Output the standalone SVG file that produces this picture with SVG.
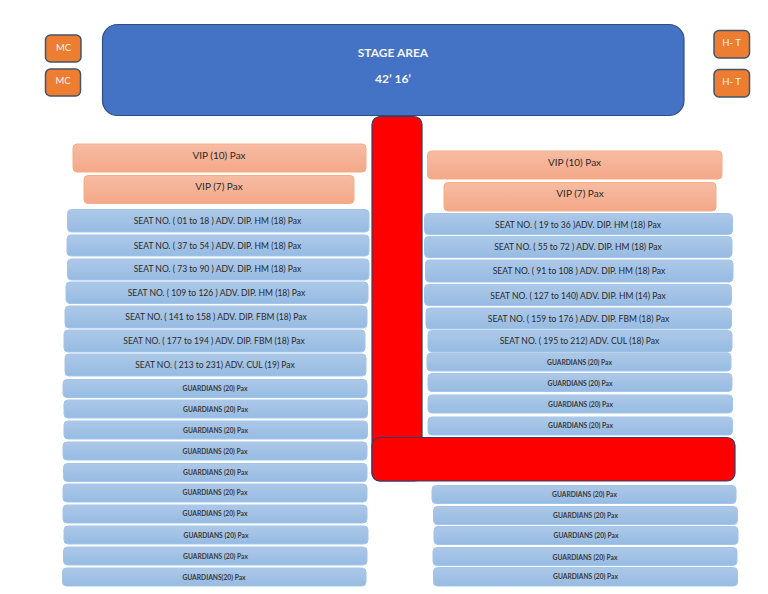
<svg xmlns="http://www.w3.org/2000/svg" width="768" height="594" viewBox="0 0 768 594">
<style>
text{font-family:Lato,"Open Sans",sans-serif;text-anchor:middle}
.w{fill:#f4f4f4}
.d{fill:#2a2a2a}
.st{font-size:12px;font-weight:700}
.m{font-size:9.5px}
.v{font-size:10px}
.s{font-size:8.55px}
.g{font-size:6.7px;font-weight:700;fill:#3a3a3a}
.o{fill:#ed7d31;stroke:#44546a;stroke-width:1.5}
.vip{fill:url(#pk);stroke:#f6ad84;stroke-width:1}
.b{fill:url(#bl);stroke:#a3c5ea;stroke-width:1}
.r{fill:#f00;stroke:#2f3f6b;stroke-width:1.2}
</style>
<defs>
<linearGradient id="pk" x1="0" y1="0" x2="0" y2="1"><stop offset="0" stop-color="#f6bca3"/><stop offset="1" stop-color="#f4a888"/></linearGradient>
<linearGradient id="bl" x1="0" y1="0" x2="0" y2="1"><stop offset="0" stop-color="#adc8e8"/><stop offset="1" stop-color="#96bbe2"/></linearGradient>
</defs>
<rect width="768" height="594" fill="#fff"/>
<g id="stage"><rect x="102.500" y="24.500" width="581.500" height="91" rx="15" fill="#4472c4" stroke="#2f4f80" stroke-width="1.2"/>
<text class="w st" x="393" y="56.500">STAGE AREA</text><text class="w st" x="393" y="82.500">42’ 16’</text></g>
<g id="mc1"><rect class="o" x="45.500" y="35" width="35.500" height="27" rx="5"/><text class="w m" x="63.500" y="51">MC</text></g>
<g id="mc2"><rect class="o" x="45.500" y="69" width="35" height="27" rx="5"/><text class="w m" x="63" y="84">MC</text></g>
<g id="ht1"><rect class="o" x="714" y="30.500" width="35.500" height="27.500" rx="5"/><text class="w m" x="731.500" y="45.500">H- T</text></g>
<g id="ht2"><rect class="o" x="714" y="69.500" width="35.500" height="27.500" rx="5"/><text class="w m" x="731.500" y="85">H- T</text></g>
<g id="aisle"><rect class="r" x="372" y="116.500" width="50" height="364.500" rx="8"/><rect class="r" x="372" y="437.500" width="363" height="43.500" rx="8"/></g>
<g id="vip-l1"><rect class="vip" x="73" y="144" width="293" height="28" rx="4"/><text class="d v" x="219" y="159">VIP (10) Pax</text></g>
<g id="vip-l2"><rect class="vip" x="84" y="175.500" width="270" height="28" rx="4"/><text class="d v" x="219" y="190">VIP (7) Pax</text></g>
<g id="vip-r1"><rect class="vip" x="427.500" y="151" width="294.500" height="28" rx="4"/><text class="d v" x="574.500" y="166">VIP (10) Pax</text></g>
<g id="vip-r2"><rect class="vip" x="444" y="182.500" width="272" height="28.500" rx="4"/><text class="d v" x="580" y="197">VIP (7) Pax</text></g>
<g id="s-l1"><rect class="b" x="67.500" y="209.500" width="301.500" height="22.500" rx="4"/><text class="d s" x="217.500" y="223.500">SEAT NO. ( 01 to 18 ) ADV. DIP. HM (18) Pax</text></g>
<g id="s-l2"><rect class="b" x="67" y="235" width="302" height="21" rx="4"/><text class="d s" x="217.500" y="249">SEAT NO. ( 37 to 54 ) ADV. DIP. HM (18) Pax</text></g>
<g id="s-l3"><rect class="b" x="67.500" y="259" width="301.500" height="21" rx="4"/><text class="d s" x="217.500" y="272">SEAT NO. ( 73 to 90 ) ADV. DIP. HM (18) Pax</text></g>
<g id="s-l4"><rect class="b" x="66" y="282" width="302" height="21.500" rx="4"/><text class="d s" x="216.500" y="295.500">SEAT NO. ( 109 to 126 ) ADV. DIP. HM (18) Pax</text></g>
<g id="s-l5"><rect class="b" x="65" y="306" width="302" height="22" rx="4"/><text class="d s" x="216" y="319.500">SEAT NO. ( 141 to 158 ) ADV. DIP. FBM (18) Pax</text></g>
<g id="s-l6"><rect class="b" x="64" y="330" width="301" height="22" rx="4"/><text class="d s" x="214" y="344">SEAT NO. ( 177 to 194 ) ADV. DIP. FBM (18) Pax</text></g>
<g id="s-l7"><rect class="b" x="65" y="354" width="301" height="22" rx="4"/><text class="d s" x="215" y="368">SEAT NO. ( 213 to 231) ADV. CUL (19) Pax</text></g>
<g id="g-l1"><rect class="b" x="63" y="379.500" width="304" height="18" rx="4"/><text class="g" x="215" y="390.500">GUARDIANS (20) Pax</text></g>
<g id="g-l2"><rect class="b" x="64" y="400" width="303.500" height="18" rx="4"/><text class="g" x="215.500" y="411.500">GUARDIANS (20) Pax</text></g>
<g id="g-l3"><rect class="b" x="64" y="421" width="303.500" height="18" rx="4"/><text class="g" x="215.500" y="432.500">GUARDIANS (20) Pax</text></g>
<g id="g-l4"><rect class="b" x="63" y="442" width="304" height="18" rx="4"/><text class="g" x="215" y="453.500">GUARDIANS (20) Pax</text></g>
<g id="g-l5"><rect class="b" x="63.500" y="463.500" width="303.500" height="18" rx="4"/><text class="g" x="215.500" y="474.500">GUARDIANS (20) Pax</text></g>
<g id="g-l6"><rect class="b" x="63" y="484" width="304" height="18" rx="4"/><text class="g" x="215" y="494.500">GUARDIANS (20) Pax</text></g>
<g id="g-l7"><rect class="b" x="63" y="505" width="304" height="18" rx="4"/><text class="g" x="215" y="515.500">GUARDIANS (20) Pax</text></g>
<g id="g-l8"><rect class="b" x="64" y="526" width="304" height="18" rx="4"/><text class="g" x="216" y="538">GUARDIANS (20) Pax</text></g>
<g id="g-l9"><rect class="b" x="63.500" y="547" width="303.500" height="18" rx="4"/><text class="g" x="215.500" y="558.500">GUARDIANS (20) Pax</text></g>
<g id="g-l10"><rect class="b" x="62.500" y="568" width="303.500" height="18" rx="4"/><text class="g" x="214" y="579.500">GUARDIANS(20) Pax</text></g>
<g id="s-r1"><rect class="b" x="424.500" y="213.500" width="308" height="21" rx="4"/><text class="d s" x="578" y="227.500">SEAT NO. ( 19 to 36 )ADV. DIP. HM (18) Pax</text></g>
<g id="s-r2"><rect class="b" x="424.500" y="236.500" width="307.500" height="21" rx="4"/><text class="d s" x="578" y="250">SEAT NO. ( 55 to 72 ) ADV. DIP. HM (18) Pax</text></g>
<g id="s-r3"><rect class="b" x="425.500" y="260" width="307.500" height="22" rx="4"/><text class="d s" x="579" y="274">SEAT NO. ( 91 to 108 ) ADV. DIP. HM (18) Pax</text></g>
<g id="s-r4"><rect class="b" x="424.500" y="284.500" width="307" height="21" rx="4"/><text class="d s" x="578" y="298.500">SEAT NO. ( 127 to 140) ADV. DIP. HM (14) Pax</text></g>
<g id="s-r5"><rect class="b" x="426" y="308" width="305.500" height="21" rx="4"/><text class="d s" x="578.500" y="321.500">SEAT NO. ( 159 to 176 ) ADV. DIP. FBM (18) Pax</text></g>
<g id="s-r6"><rect class="b" x="428" y="330.500" width="304" height="21.500" rx="4"/><text class="d s" x="579.500" y="344">SEAT NO. ( 195 to 212) ADV. CUL (18) Pax</text></g>
<g id="g-r1"><rect class="b" x="427" y="353" width="304" height="18" rx="4"/><text class="g" x="579.500" y="365">GUARDIANS (20) Pax</text></g>
<g id="g-r2"><rect class="b" x="428" y="373.500" width="304" height="18" rx="4"/><text class="g" x="580" y="385.500">GUARDIANS (20) Pax</text></g>
<g id="g-r3"><rect class="b" x="428" y="395" width="304.500" height="18" rx="4"/><text class="g" x="580.500" y="406.500">GUARDIANS (20) Pax</text></g>
<g id="g-r4"><rect class="b" x="428" y="417" width="304.500" height="18" rx="4"/><text class="g" x="580.500" y="428">GUARDIANS (20) Pax</text></g>
<g id="g-r5"><rect class="b" x="432" y="485.500" width="304" height="18" rx="4"/><text class="g" x="584.500" y="496.500">GUARDIANS (20) Pax</text></g>
<g id="g-r6"><rect class="b" x="433.500" y="506.500" width="304" height="18" rx="4"/><text class="g" x="585.500" y="517.500">GUARDIANS (20) Pax</text></g>
<g id="g-r7"><rect class="b" x="434" y="526.500" width="304" height="18" rx="4"/><text class="g" x="586" y="538">GUARDIANS (20) Pax</text></g>
<g id="g-r8"><rect class="b" x="433" y="547.500" width="304" height="18" rx="4"/><text class="g" x="585" y="559.500">GUARDIANS (20) Pax</text></g>
<g id="g-r9"><rect class="b" x="433.500" y="567.500" width="304" height="18.500" rx="4"/><text class="g" x="585.500" y="579">GUARDIANS (20) Pax</text></g>
</svg>
